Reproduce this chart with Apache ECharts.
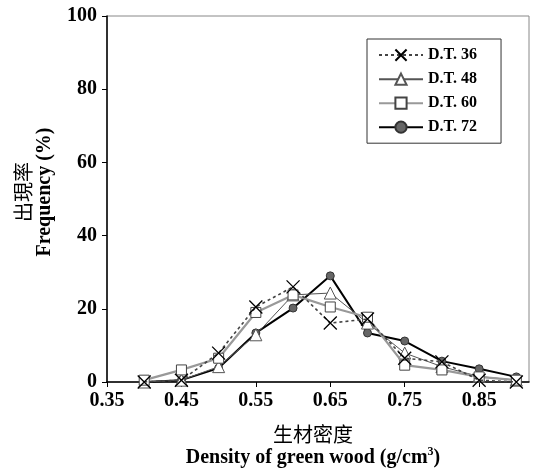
<!DOCTYPE html>
<html>
<head>
<meta charset="utf-8">
<script src="https://cdn.jsdelivr.net/npm/echarts@6/dist/echarts.min.js"></script>
<style>
  html, body { margin: 0; padding: 0; background: #fff; }
  #main { width: 533px; height: 468px; }
</style>
</head>
<body>
<div id="main"></div>
<script>
// density classes (g/cm3)
const density = [0.40, 0.45, 0.50, 0.55, 0.60, 0.65, 0.70, 0.75, 0.80, 0.85, 0.90];
// frequency (%) per drying temperature
const dt36 = [0, 0.5, 7.9, 20.5, 26.0, 16.1, 17.2, 6.5, 5.5, 0.5, 0];
const dt48 = [0, 0.5, 4.2, 12.9, 23.8, 24.3, 16.1, 7.9, 4.2, 1.5, 0.5];
const dt60 = [0.5, 3.3, 6.5, 19.0, 23.8, 20.5, 17.7, 4.6, 3.3, 1.4, 0.5];
const dt72 = [0, 0.5, 3.8, 13.4, 20.2, 29.0, 13.4, 11.2, 5.7, 3.6, 1.4];
const seriesNames = ["D.T. 36", "D.T. 48", "D.T. 60", "D.T. 72"];
const yTicks = [0, 20, 40, 60, 80, 100];

const pairs = (vals) => density.map((d, i) => [d, vals[i]]);
const serif = "Liberation Serif, Times New Roman, serif";
const cjk = "Noto Sans CJK TC";

let myChart = echarts.init(document.getElementById("main"));
let option = {
  animation: false,
  grid: {
    left: 107, top: 16, right: 4, bottom: 86,
    outerBoundsMode: "none",
    show: true, borderColor: "#888", borderWidth: 1,
  },
  legend: {
    orient: "vertical",
    left: 367, top: 39,
    padding: [8, 24, 8, 11],
    itemWidth: 44, itemHeight: 14, itemGap: 8,
    borderColor: "#333", borderWidth: 1,
    backgroundColor: "#fff",
    data: seriesNames,
    textStyle: { fontFamily: serif, fontWeight: "bold", fontSize: 16, color: "#000" },
  },
  xAxis: {
    type: "value",
    min: 0.35, max: 0.917, interval: 0.1,
    splitLine: { show: false },
    axisLine: { lineStyle: { color: "#000", width: 1.5 } },
    axisTick: { length: 5, lineStyle: { color: "#000" } },
    axisLabel: {
      margin: 9, color: "#000", fontFamily: serif, fontWeight: "bold", fontSize: 20,
      formatter: (v) => v.toFixed(2), showMaxLabel: false,
    },
    name: "{c|生材密度}\n{b|Density of green wood (g/cm}{s|3}{b|)}",
    nameLocation: "middle",
    nameGap: 41,
    nameTextStyle: {
      padding: [0, 10, 0, 0],
      rich: {
        c: { fontFamily: cjk, fontSize: 20, color: "#000", lineHeight: 23 },
        b: { fontFamily: serif, fontWeight: "bold", fontSize: 20, color: "#000", lineHeight: 23 },
        s: { fontFamily: serif, fontWeight: "bold", fontSize: 12, color: "#000", verticalAlign: "top", lineHeight: 23 },
      },
    },
  },
  yAxis: {
    type: "value",
    min: yTicks[0], max: yTicks[yTicks.length - 1], interval: 20,
    splitLine: { show: false },
    axisLine: { show: true, lineStyle: { color: "#000", width: 1.5 } },
    axisTick: { show: true, length: 5, lineStyle: { color: "#000" } },
    axisLabel: { margin: 10, color: "#000", fontFamily: serif, fontWeight: "bold", fontSize: 20 },
    name: "{c|出現率}\n{b|Frequency (%)}",
    nameLocation: "middle",
    nameRotate: 90,
    nameGap: 52,
    nameTextStyle: {
      padding: [0, 0, 0, 14],
      rich: {
        c: { fontFamily: cjk, fontSize: 20, color: "#000", lineHeight: 21 },
        b: { fontFamily: serif, fontWeight: "bold", fontSize: 20, color: "#000", lineHeight: 21 },
      },
    },
  },
  series: [
    {
      name: seriesNames[0], type: "line", data: pairs(dt36), z: 5,
      symbol: "path://M0,0L10,10M10,0L0,10", symbolSize: 13,
      itemStyle: { color: "none", borderColor: "#000", borderWidth: 1.3 },
      lineStyle: { color: "#444", width: 1.6, type: [3, 3] },
    },
    {
      name: seriesNames[1], type: "line", data: pairs(dt48), z: 3,
      symbol: "triangle", symbolSize: 12,
      itemStyle: { color: "#fff", borderColor: "#555", borderWidth: 1 },
      lineStyle: { color: "#555", width: 1 },
    },
    {
      name: seriesNames[2], type: "line", data: pairs(dt60), z: 4,
      symbol: "rect", symbolSize: 10,
      itemStyle: { color: "#fff", borderColor: "#444", borderWidth: 1 },
      lineStyle: { color: "#999", width: 2.2 },
    },
    {
      name: seriesNames[3], type: "line", data: pairs(dt72), z: 2,
      symbol: "circle", symbolSize: 8,
      itemStyle: { color: "#666", borderColor: "#333", borderWidth: 1 },
      lineStyle: { color: "#000", width: 2 },
    },
  ],
};
myChart.setOption(option);
</script>
</body>
</html>
